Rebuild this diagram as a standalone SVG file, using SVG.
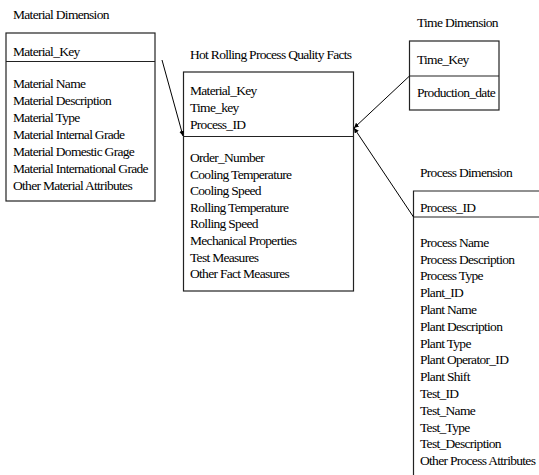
<svg xmlns="http://www.w3.org/2000/svg" width="539" height="475" viewBox="0 0 539 475">
<style>
  text { font-family: "Liberation Serif", "Times New Roman", serif; font-size: 13.5px; letter-spacing: -0.7px; fill: #000; }
  .box { fill: #fff; stroke: #222; stroke-width: 1.2; }
  .div { stroke: #222; stroke-width: 1.2; fill: none; }
  .conn { stroke: #000; stroke-width: 1; fill: none; }
</style>
<defs>
  <marker id="arrow" markerUnits="userSpaceOnUse" markerWidth="5" markerHeight="5" refX="5" refY="2.5" orient="auto">
    <path d="M0,0 L5,2.5 L0,5 z" fill="#000"/>
  </marker>
</defs>
<rect width="539" height="475" fill="#fff"/>

<g id="material">
  <text x="13" y="19">Material Dimension</text>
  <rect class="box" x="6" y="33" width="149" height="168"/>
  <line class="div" x1="6" y1="61.5" x2="155" y2="61.5"/>
  <text x="13" y="56">Material_Key</text>
  <text x="13" y="88">Material Name</text>
  <text x="13" y="105">Material Description</text>
  <text x="13" y="122">Material Type</text>
  <text x="13" y="139">Material Internal Grade</text>
  <text x="13" y="156">Material Domestic Grage</text>
  <text x="13" y="173">Material International Grade</text>
  <text x="13" y="190">Other Material Attributes</text>
</g>

<g id="facts">
  <text x="190" y="59">Hot Rolling Process Quality Facts</text>
  <rect class="box" x="183.5" y="72" width="170" height="219"/>
  <line class="div" x1="183.5" y1="136.5" x2="353.5" y2="136.5"/>
  <text x="190" y="95">Material_Key</text>
  <text x="190" y="112">Time_key</text>
  <text x="190" y="129">Process_ID</text>
  <text x="190" y="162">Order_Number</text>
  <text x="190" y="178.6">Cooling Temperature</text>
  <text x="190" y="195.2">Cooling Speed</text>
  <text x="190" y="211.8">Rolling Temperature</text>
  <text x="190" y="228.4">Rolling Speed</text>
  <text x="190" y="245">Mechanical Properties</text>
  <text x="190" y="261.6">Test Measures</text>
  <text x="190" y="278.2">Other Fact Measures</text>
</g>

<g id="time">
  <text x="417" y="27">Time Dimension</text>
  <rect class="box" x="409.5" y="41" width="89.5" height="69"/>
  <line class="div" x1="409.5" y1="76" x2="499" y2="76"/>
  <text x="417" y="64">Time_Key</text>
  <text x="417" y="97">Production_date</text>
</g>

<g id="process">
  <text x="420" y="177">Process Dimension</text>
  <path class="div" d="M413.5,476 L413.5,191 L540,191"/>
  <line class="div" x1="413.5" y1="217" x2="540" y2="217"/>
  <text x="420" y="212">Process_ID</text>
  <text x="420" y="246.7">Process Name</text>
  <text x="420" y="263.5">Process Description</text>
  <text x="420" y="280.3">Process Type</text>
  <text x="420" y="297.1">Plant_ID</text>
  <text x="420" y="313.9">Plant Name</text>
  <text x="420" y="330.7">Plant Description</text>
  <text x="420" y="347.5">Plant Type</text>
  <text x="420" y="364.3">Plant Operator_ID</text>
  <text x="420" y="381.1">Plant Shift</text>
  <text x="420" y="397.9">Test_ID</text>
  <text x="420" y="414.7">Test_Name</text>
  <text x="420" y="431.5">Test_Type</text>
  <text x="420" y="448.3">Test_Description</text>
  <text x="420" y="465.1">Other Process Attributes</text>
</g>

<g id="connectors">
  <line class="conn" x1="162" y1="60" x2="183" y2="136" marker-end="url(#arrow)"/>
  <line class="conn" x1="409.5" y1="76" x2="354" y2="128" marker-end="url(#arrow)"/>
  <line class="conn" x1="413.5" y1="217" x2="354" y2="128" marker-end="url(#arrow)"/>
</g>
</svg>
